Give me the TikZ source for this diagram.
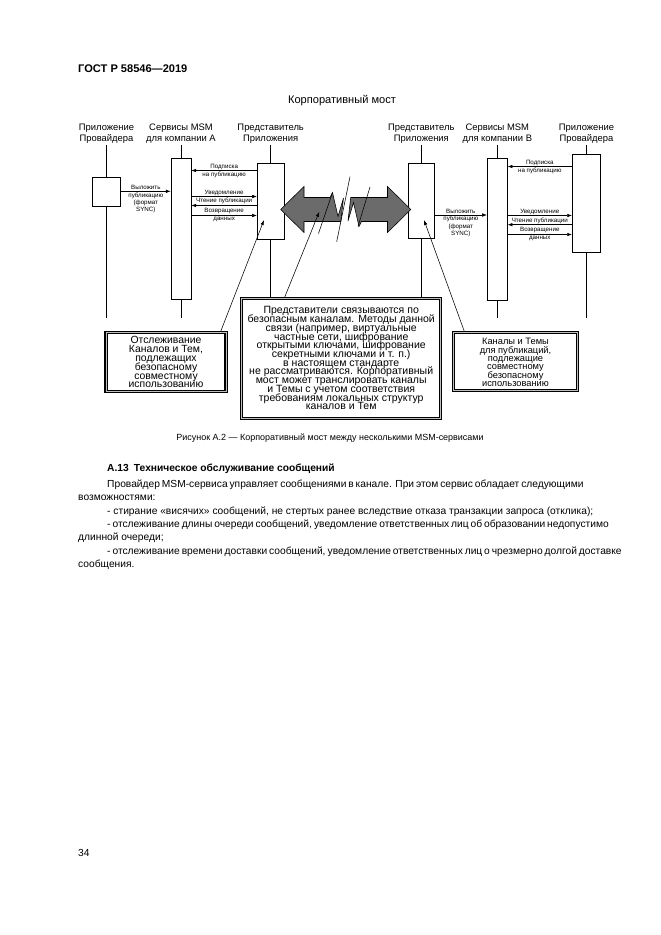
\documentclass[tikz,border=0pt]{standalone}
\usepackage{fontspec}
\setmainfont{Liberation Sans}
\usetikzlibrary{arrows.meta, positioning, fit, calc}

\tikzset{
  colhead/.style={font=\fontsize{8.5}{9.9}\selectfont, align=center, anchor=north, inner sep=0pt},
  lifeln/.style={line width=0.55pt},
  actbox/.style={draw, fill=white, line width=0.6pt, inner sep=0pt},
  msg/.style={-{Latex[length=1.5mm, width=1.1mm]}, line width=0.45pt},
  lbl/.style={font=\fontsize{5.6}{6.6}\selectfont, inner sep=0.9pt, align=center},
  notebox/.style={draw, line width=1pt, double=gray!50, double distance=0.8pt,
                  fill=white, inner sep=0pt},
  notetxt/.style={align=center, inner sep=0pt},
  callout/.style={-{Latex[length=1.6mm, width=1.1mm]}, line width=0.5pt},
  bigarr/.style={fill=black!58, draw=black, line width=0.5pt},
  breakln/.style={line width=0.5pt},
  pagetxt/.style={font=\fontsize{9.25}{11}\selectfont, anchor=base west, inner sep=0pt},
}
\newcommand{\notefont}[2]{\fontsize{#1}{#2}\selectfont\lineskiplimit=-20pt\lineskip=0pt}

\begin{document}
\begin{tikzpicture}[x=0.3176mm, y=-0.3176mm]
  \useasboundingbox (0,0) rectangle (661,935);
  \fill[white] (0,0) rectangle (661,935);

  % page head
  \node[pagetxt, font=\fontsize{10}{12}\selectfont\bfseries] (gost) at (78,72) {ГОСТ Р 58546—2019};
  \node[font=\fontsize{10}{12}\selectfont, anchor=base, inner sep=0pt] (title) at (342,103) {Корпоративный мост};

  % column heads
  \node[colhead] (pAhead) at (106.5,123.5) {Приложение\\Провайдера};
  \node[colhead] (mAhead) at (181,123.5) {Сервисы MSM\\для компании А};
  \node[colhead] (rAhead) at (270.7,123.5) {Представитель\\Приложения};
  \node[colhead] (rBhead) at (421.3,123.5) {Представитель\\Приложения};
  \node[colhead] (mBhead) at (497.3,123.5) {Сервисы MSM\\для компании В};
  \node[colhead] (pBhead) at (586.5,123.5) {Приложение\\Провайдера};

  % lifelines
  \foreach \nm/\xx in {pA/106.5, mA/181, rA/270.7, rB/421.3, mB/497.3, pB/586.5}{
    \coordinate (top\nm) at (\xx,145);
    \coordinate (bot\nm) at (\xx,318);
  }
  \foreach \nm in {pA, mA, mB, pB}
    \draw[lifeln] (top\nm) -- (bot\nm);

  % notes
  \node[notebox, fit={(106,332.3) (226,391.7)}] (leftnote) {};
  \node[notebox, fit={(241.7,298.3) (440.7,418.3)}] (midnote) {};
  \node[notebox, fit={(453.3,332.3) (577.7,390.7)}] (rightnote) {};
  \node[notetxt, font=\notefont{9.4}{8.1}] (lefttxt) at (leftnote.center)
    {Отслеживание\\Каналов и Тем,\\подлежащих\\безопасному\\совместному\\использованию};
  \node[notetxt, font=\notefont{9.5}{7.9}] (midtxt) at (midnote.center)
    {Представители связываются по\\безопасным каналам. Методы данной\\связи (например, виртуальные\\частные сети, шифрование\\открытыми ключами, шифрование\\секретными ключами и т. п.)\\в настоящем стандарте\\не рассматриваются. Корпоративный\\мост может транслировать каналы\\и Темы с учетом соответствия\\требованиям локальных структур\\каналов и Тем};
  \node[notetxt, font=\notefont{8.4}{7.6}] (righttxt) at ($(rightnote.center)+(0,1)$)
    {Каналы и Темы\\для публикаций,\\подлежащие\\совместному\\безопасному\\использованию};

  \draw[lifeln] (toprA) -- (toprA |- midnote.north);
  \draw[lifeln] (toprB) -- (toprB |- midnote.north);

  % activation boxes
  \node[actbox, fit={(92.3,177.7) (120.7,206.7)}] (pAbox) {};
  \node[actbox, fit={(171,158.3) (191,299.3)}] (mAbox) {};
  \node[actbox, fit={(257.3,163.3) (284,239)}] (rAbox) {};
  \node[actbox, fit={(408.3,163.3) (434.3,238.3)}] (rBbox) {};
  \node[actbox, fit={(487.3,158.3) (507.3,300.7)}] (mBbox) {};
  \node[actbox, fit={(572.3,154) (600.7,252.7)}] (pBbox) {};

  % messages, company A
  \draw[msg] (pAbox.east |- 0,191.3) -- (mAbox.west |- 0,191.3)
    node[lbl, midway, above] {Выложить} node[lbl, midway, below] {публикацию\\(формат\\SYNC)};
  \draw[msg] (rAbox.west |- 0,170.5) -- (mAbox.east |- 0,170.5)
    node[lbl, midway, above] {Подписка} node[lbl, midway, below] {на публикацию};
  \draw[msg] (mAbox.east |- 0,196.5) -- (rAbox.west |- 0,196.5)
    node[lbl, midway, above] {Уведомление};
  \draw[msg] (rAbox.west |- 0,205.5) -- (mAbox.east |- 0,205.5)
    node[lbl, midway, above] {Чтение публикации};
  \draw[msg] (mAbox.east |- 0,215.5) -- (rAbox.west |- 0,215.5)
    node[lbl, midway, above] {Возвращение} node[lbl, midway, below] {данных};

  % messages, company B
  \draw[msg] (rBbox.east |- 0,215) -- (mBbox.west |- 0,215)
    node[lbl, midway, above] {Выложить} node[lbl, midway, below] {публикацию\\(формат\\SYNC)};
  \draw[msg] (pBbox.west |- 0,166.5) -- (mBbox.east |- 0,166.5)
    node[lbl, midway, above] {Подписка} node[lbl, midway, below] {на публикацию};
  \draw[msg] (mBbox.east |- 0,215.5) -- (pBbox.west |- 0,215.5)
    node[lbl, midway, above] {Уведомление};
  \draw[msg] (pBbox.west |- 0,224.7) -- (mBbox.east |- 0,224.7)
    node[lbl, midway, above] {Чтение публикации};
  \draw[msg] (mBbox.east |- 0,234.5) -- (pBbox.west |- 0,234.5)
    node[lbl, midway, above] {Возвращение} node[lbl, midway, below] {данных};

  % broken bridge arrow
  \draw[bigarr] (280.7,209.5) -- (304,186.5) -- (304,197.5) -- (330,197.5) -- (332.5,192.5)
    -- (338,216.5) -- (343.5,198) -- (340.8,221.5) -- (304,221.5) -- (304,232.5) -- cycle;
  \draw[bigarr] (410.8,209.5) -- (387.5,186.5) -- (387.5,197.5) -- (350.7,197.5) -- (348,221)
    -- (353.5,202.5) -- (359,226.5) -- (361.5,221.5) -- (387.5,221.5) -- (387.5,232.5) -- cycle;
  \draw[breakln] (332.5,192.5) -- (318.5,233.5);
  \draw[breakln] (350,176.7) -- (336.7,241.7);
  \draw[breakln] (370,187) -- (358,226.5);

  % callouts
  \coordinate (rApt) at (264,220);
  \coordinate (bridgept) at (319.3,211.7);
  \coordinate (rBpt) at (424,220);
  \draw[callout] ($(leftnote.north east)+(-6,0)$) -- (rApt);
  \draw[callout] ($(midnote.north west)+(43.3,0)$) -- (bridgept);
  \draw[callout] ($(rightnote.north west)+(11.7,0)$) -- (rBpt);

  % caption and text
  \node[font=\fontsize{8.1}{10}\selectfont, anchor=base, inner sep=0pt] (caption) at (330,440.5)
    {Рисунок А.2 — Корпоративный мост между несколькими MSM-сервисами};
  \node[pagetxt, font=\fontsize{9.25}{11}\selectfont\bfseries] (sect) at (107,471.5)
    {А.13\enspace Техническое обслуживание сообщений};
  \node[pagetxt] (ln1) at (107,487.5)
    {\makebox[151.2mm][s]{Провайдер MSM-сервиса управляет сообщениями в канале. При этом сервис обладает следующими}};
  \node[pagetxt] (ln2) at (78,500.5) {возможностями:};
  \node[pagetxt] (ln3) at (107,514.5)
    {- стирание «висячих» сообщений, не стертых ранее вследствие отказа транзакции запроса (отклика);};
  \node[pagetxt] (ln4) at (107,527.5)
    {\makebox[151.2mm][s]{- отслеживание длины очереди сообщений, уведомление ответственных лиц об образовании недопустимо}};
  \node[pagetxt] (ln5) at (78,540.5) {длинной очереди;};
  \node[pagetxt] (ln6) at (107,554.5)
    {\makebox[151.2mm][s]{- отслеживание времени доставки сообщений, уведомление ответственных лиц о чрезмерно долгой доставке}};
  \node[pagetxt] (ln7) at (78,567.5) {сообщения.};

  \node[pagetxt] (pagenum) at (78,856) {34};
\end{tikzpicture}
\end{document}
